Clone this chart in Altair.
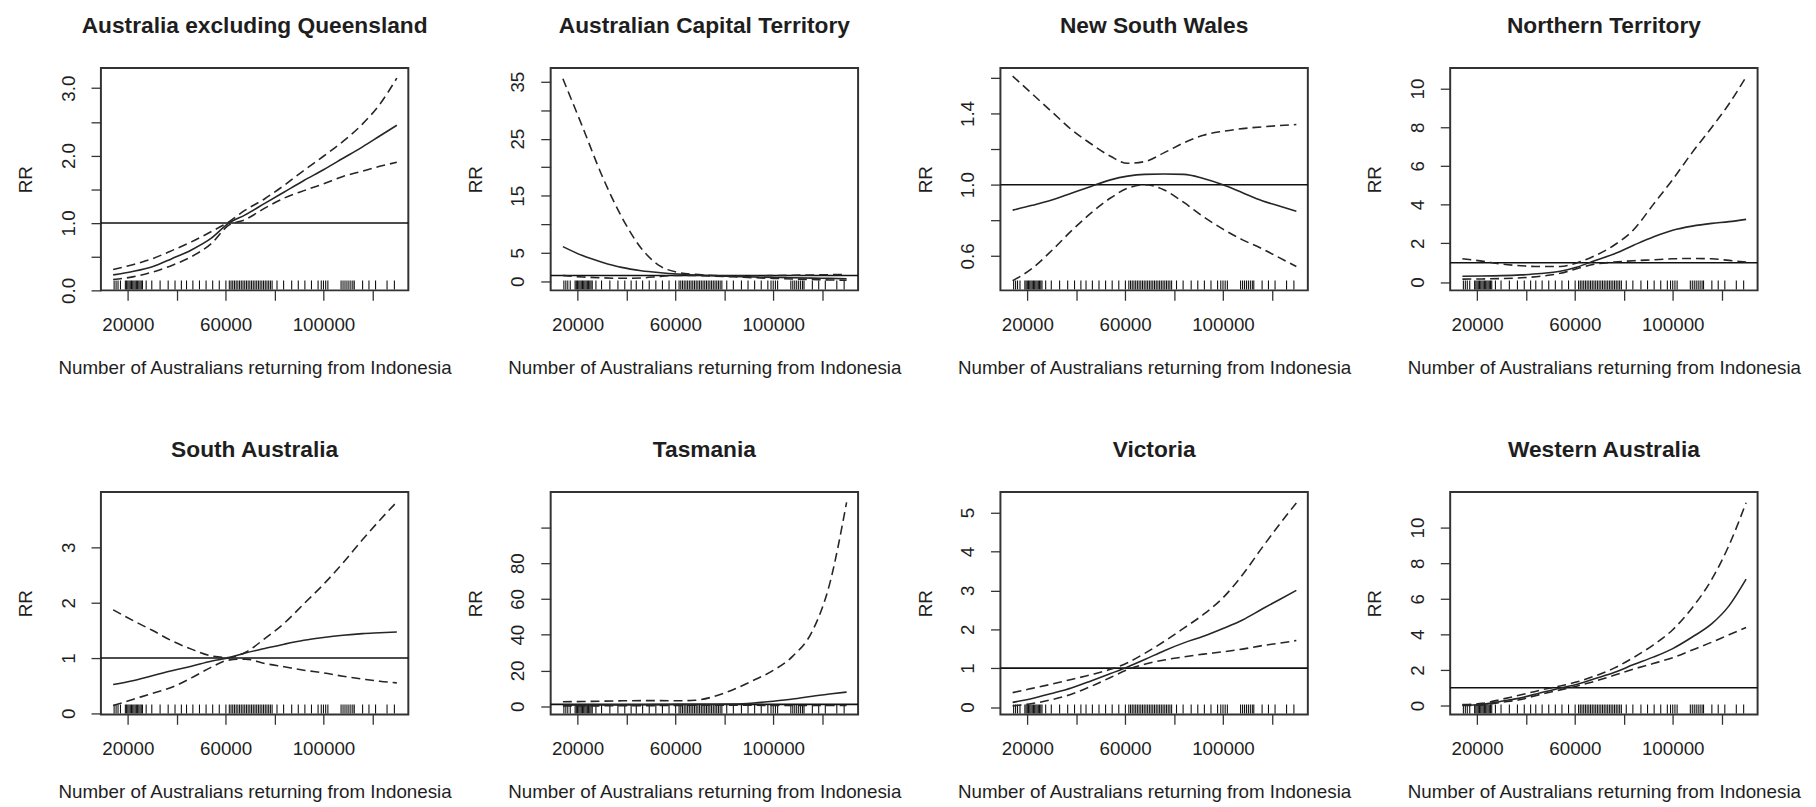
import altair as alt
import pandas as pd

PANELS = [
    "Australia excluding Queensland",
    "Australian Capital Territory",
    "New South Wales",
    "Northern Territory",
    "South Australia",
    "Tasmania",
    "Victoria",
    "Western Australia",
]

# Number of Australians returning from Indonesia (points where curves were read)
X_GRID = [14000, 22000, 30000, 38000, 46000, 54000, 61000, 68000,
          76000, 84000, 92000, 100000, 108000, 116000, 123000, 130000]

# Relative risk estimate (solid line)
FIT = {
    "Australia excluding Queensland": [0.23, 0.28, 0.35, 0.47, 0.60, 0.77, 0.99, 1.12, 1.29, 1.46, 1.63, 1.79, 1.96, 2.13, 2.29, 2.45],
    "Australian Capital Territory": [6.07, 4.5, 3.35, 2.43, 1.85, 1.5, 1.27, 1.1, 0.95, 0.85, 0.75, 0.68, 0.6, 0.55, 0.5, 0.45],
    "New South Wales": [0.857, 0.884, 0.914, 0.952, 0.99, 1.027, 1.048, 1.058, 1.06, 1.058, 1.035, 1.0, 0.955, 0.91, 0.88, 0.85],
    "Northern Territory": [0.3, 0.31, 0.33, 0.37, 0.44, 0.56, 0.78, 1.1, 1.45, 1.9, 2.33, 2.68, 2.89, 3.03, 3.12, 3.24],
    "South Australia": [0.52, 0.59, 0.68, 0.77, 0.85, 0.94, 1.0, 1.09, 1.17, 1.25, 1.32, 1.37, 1.41, 1.44, 1.455, 1.47],
    "Tasmania": [0.6, 0.65, 0.7, 0.75, 0.8, 0.9, 1.0, 1.05, 1.1, 1.2, 1.8, 2.8, 4.0, 5.6, 6.8, 7.9],
    "Victoria": [0.12, 0.22, 0.35, 0.49, 0.67, 0.86, 1.03, 1.22, 1.45, 1.65, 1.82, 2.02, 2.24, 2.52, 2.76, 3.0],
    "Western Australia": [0.02, 0.06, 0.24, 0.43, 0.72, 0.98, 1.2, 1.5, 1.85, 2.3, 2.72, 3.2, 3.85, 4.6, 5.6, 7.1],
}

# Upper confidence limit (dashed)
UPPER = {
    "Australia excluding Queensland": [0.31, 0.38, 0.47, 0.59, 0.72, 0.87, 1.01, 1.19, 1.36, 1.56, 1.78, 1.99, 2.21, 2.47, 2.76, 3.15],
    "Australian Capital Territory": [35.5, 27.1, 18.5, 11.3, 5.8, 2.6, 1.56, 1.2, 1.0, 0.95, 0.95, 1.0, 1.05, 1.1, 1.15, 1.2],
    "New South Wales": [1.61, 1.51, 1.41, 1.31, 1.23, 1.16, 1.12, 1.13, 1.18, 1.235, 1.278, 1.30, 1.315, 1.325, 1.332, 1.338],
    "Northern Territory": [1.2, 1.08, 0.93, 0.84, 0.8, 0.8, 1.0, 1.35, 1.9, 2.7, 4.0, 5.3, 6.7, 8.0, 9.2, 10.6],
    "South Australia": [1.87, 1.68, 1.5, 1.31, 1.16, 1.04, 1.01, 1.1, 1.35, 1.63, 1.98, 2.33, 2.72, 3.14, 3.49, 3.82],
    "Tasmania": [2.5, 2.6, 2.8, 3.0, 3.1, 3.1, 3.0, 3.3, 5.5, 9.5, 14.5, 20.0, 28.0, 42.0, 68.0, 114.0],
    "Victoria": [0.37, 0.48, 0.59, 0.71, 0.83, 0.97, 1.14, 1.38, 1.69, 2.03, 2.38, 2.81, 3.4, 4.1, 4.69, 5.25],
    "Western Australia": [0.05, 0.12, 0.35, 0.6, 0.87, 1.1, 1.33, 1.65, 2.1, 2.7, 3.4, 4.26, 5.5, 7.1, 9.0, 11.4],
}

# Lower confidence limit (dashed)
LOWER = {
    "Australia excluding Queensland": [0.16, 0.20, 0.27, 0.37, 0.50, 0.69, 0.96, 1.05, 1.22, 1.37, 1.48, 1.58, 1.69, 1.77, 1.84, 1.90],
    "Australian Capital Territory": [1.0, 0.75, 0.6, 0.52, 0.58, 0.85, 1.02, 1.0, 0.9, 0.78, 0.62, 0.5, 0.4, 0.3, 0.23, 0.17],
    "New South Wales": [0.46, 0.53, 0.63, 0.74, 0.84, 0.925, 0.98, 1.0, 0.97, 0.90, 0.82, 0.75, 0.69, 0.64, 0.59, 0.54],
    "Northern Territory": [0.15, 0.16, 0.18, 0.22, 0.3, 0.45, 0.7, 0.92, 1.03, 1.1, 1.15, 1.2, 1.22, 1.2, 1.12, 1.03],
    "South Australia": [0.14, 0.25, 0.36, 0.47, 0.64, 0.83, 0.96, 0.98, 0.9, 0.84, 0.78, 0.73, 0.67, 0.62, 0.58, 0.55],
    "Tasmania": [0.15, 0.17, 0.2, 0.25, 0.3, 0.35, 0.45, 0.5, 0.55, 0.55, 0.5, 0.45, 0.42, 0.4, 0.38, 0.36],
    "Victoria": [0.03, 0.09, 0.19, 0.33, 0.53, 0.76, 0.96, 1.1, 1.21, 1.29, 1.36, 1.42, 1.49, 1.58, 1.64, 1.71],
    "Western Australia": [0.0, 0.03, 0.18, 0.34, 0.63, 0.88, 1.1, 1.36, 1.7, 2.05, 2.36, 2.69, 3.12, 3.56, 3.98, 4.38],
}

# Observed values shown as a rug along the bottom
RUG_X = [14400, 15200, 16000, 17000, 19000, 19500, 20000, 20500, 21000, 21500, 22000,
         22500, 23000, 23500, 24000, 24500, 25000, 25500, 26000, 27500, 29800, 33200,
         36500, 39300, 41900, 44000, 46600, 49300, 52000, 54700, 57400, 60100, 61500,
         62200, 62900, 63600, 64300, 65000, 65700, 66400, 67100, 67800, 68500, 69200,
         69900, 70600, 71300, 72000, 72700, 73400, 74100, 74800, 75500, 76200, 76900,
         77600, 78300, 79000, 81000, 83700, 87000, 89700, 92400, 95100, 97800, 99100,
         100000, 100900, 101800, 107200, 108000, 108800, 109600, 110400, 111200, 112000,
         112600, 116000, 118600, 121300, 126000, 129000]

X_DOMAIN = [9000, 134700]
X_TICKS = [20000, 40000, 60000, 80000, 100000, 120000]
X_LABELED = [20000, 60000, 100000]

Y_DOMAIN = {
    "Australia excluding Queensland": [0.0, 3.3],
    "Australian Capital Territory": [-1.6, 37.4],
    "New South Wales": [0.406, 1.656],
    "Northern Territory": [-0.43, 11.06],
    "South Australia": [-0.02, 4.0],
    "Tasmania": [-4.6, 119.8],
    "Victoria": [-0.19, 5.53],
    "Western Australia": [-0.5, 12.0],
}
Y_TICKS = {
    "Australia excluding Queensland": [0, 0.5, 1, 1.5, 2, 2.5, 3],
    "Australian Capital Territory": [0, 5, 10, 15, 20, 25, 30, 35],
    "New South Wales": [0.6, 0.8, 1.0, 1.2, 1.4, 1.6],
    "Northern Territory": [0, 2, 4, 6, 8, 10],
    "South Australia": [0, 1, 2, 3],
    "Tasmania": [0, 20, 40, 60, 80, 100],
    "Victoria": [0, 1, 2, 3, 4, 5],
    "Western Australia": [0, 2, 4, 6, 8, 10],
}
Y_LABELED = {
    "Australia excluding Queensland": [0, 1, 2, 3],
    "Australian Capital Territory": [0, 5, 15, 25, 35],
    "New South Wales": [0.6, 1.0, 1.4],
    "Northern Territory": [0, 2, 4, 6, 8, 10],
    "South Australia": [0, 1, 2, 3],
    "Tasmania": [0, 20, 40, 60, 80],
    "Victoria": [0, 1, 2, 3, 4, 5],
    "Western Australia": [0, 2, 4, 6, 8, 10],
}
Y_FORMAT = {
    "Australia excluding Queensland": ".1f",
    "Australian Capital Territory": "d",
    "New South Wales": ".1f",
    "Northern Territory": "d",
    "South Australia": "d",
    "Tasmania": "d",
    "Victoria": "d",
    "Western Australia": "d",
}

W, H = 311, 225
FONT = "Liberation Sans"
INK = "#1e1e1e"
LINE = "#262626"


def panel(name):
    rows = []
    for band, vals in (("upper", UPPER[name]), ("lower", LOWER[name])):
        for x, y in zip(X_GRID, vals):
            rows.append({"x": x, "y": y, "band": band})
    ci = pd.DataFrame(rows)
    fit = pd.DataFrame({"x": X_GRID, "y": FIT[name]})
    ref = pd.DataFrame({"y": [1.0]})
    rug = pd.DataFrame({"x": RUG_X})

    xenc = alt.X(
        "x:Q",
        title="Number of Australians returning from Indonesia",
        scale=alt.Scale(domain=X_DOMAIN, nice=False, zero=False),
        axis=alt.Axis(
            values=X_TICKS,
            format="d",
            labelExpr=f"indexof({X_LABELED}, datum.value) >= 0 ? datum.label : ''",
            labelPadding=16,
            titlePadding=24,
            labelFlush=False,
            labelOverlap=False,
        ),
    )
    yenc = alt.Y(
        "y:Q",
        title="RR",
        scale=alt.Scale(domain=Y_DOMAIN[name], nice=False, zero=False),
        axis=alt.Axis(
            values=Y_TICKS[name],
            format=Y_FORMAT[name],
            labelExpr=f"indexof({Y_LABELED[name]}, datum.value) >= 0 ? datum.label : ''",
            labelAngle=-90,
            labelAlign="center",
            labelBaseline="bottom",
            labelPadding=13,
            titlePadding=24,
            labelFlush=False,
            labelOverlap=False,
        ),
    )

    ci_lines = alt.Chart(ci).mark_line(
        color=LINE, strokeWidth=1.6, strokeDash=[9, 5], interpolate="monotone", clip=True
    ).encode(x=xenc, y=yenc, detail="band:N")
    fit_line = alt.Chart(fit).mark_line(
        color=LINE, strokeWidth=1.6, interpolate="monotone", clip=True
    ).encode(x=xenc, y=yenc)
    ref_line = alt.Chart(ref).mark_rule(color="#111111", strokeWidth=1.6).encode(y=yenc)
    rug_ticks = alt.Chart(rug).mark_rule(color="#111111", strokeWidth=1.1).encode(
        x=xenc, y=alt.value(H - 10), y2=alt.value(H - 1)
    )

    return alt.layer(ref_line, rug_ticks, ci_lines, fit_line).properties(
        width=W,
        height=H,
        title=alt.TitleParams(
            name,
            font=FONT,
            fontSize=23,
            fontWeight="bold",
            color=INK,
            baseline="alphabetic",
            offset=12,
            anchor="middle",
        ),
    )


chart = alt.concat(
    *[panel(n) for n in PANELS],
    columns=4,
    spacing=alt.RowColnumber(row=204, column=144),
    bounds="flush",
).properties(
    padding={"left": 8, "top": 2, "right": 5, "bottom": 0},
    background="white",
).configure_view(
    stroke="#333333", strokeWidth=2
).configure_axis(
    labelFont=FONT,
    titleFont=FONT,
    labelFontSize=19,
    titleFontSize=19,
    titleFontWeight="normal",
    labelColor=INK,
    titleColor=INK,
    tickColor="#333333",
    tickSize=10,
    tickWidth=1.3,
    domain=False,
    grid=False,
)

chart.save("out.html", embed_options={"renderer": "svg", "actions": False})
